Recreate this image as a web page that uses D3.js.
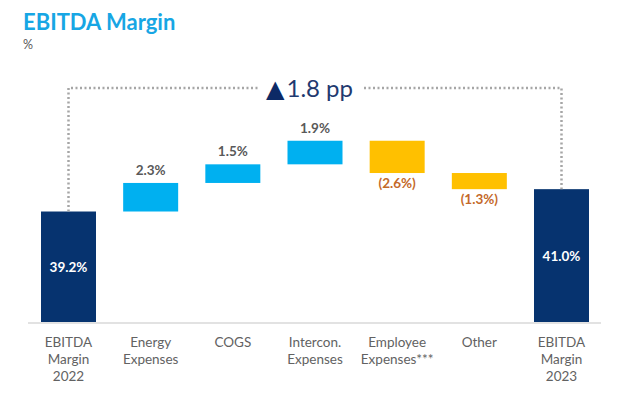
<!DOCTYPE html>
<html><head><meta charset="utf-8">
<script src="https://cdn.jsdelivr.net/npm/d3@7"></script>
<style>body{margin:0;background:#fff}svg{display:block}</style>
</head><body><svg id="c" width="617" height="407"></svg>
<script>
const categories = ["EBITDA Margin 2022","Energy Expenses","COGS","Intercon. Expenses","Employee Expenses***","Other","EBITDA Margin 2023"];
const labelLines = [["EBITDA","Margin","2022"],["Energy","Expenses"],["COGS"],["Intercon.","Expenses"],["Employee","Expenses***"],["Other"],["EBITDA","Margin","2023"]];
const values = [39.2, 2.3, 1.5, 1.9, -2.6, -1.3, 41.0];
const kinds = ["total","delta","delta","delta","delta","delta","total"];
const valueLabels = ["39.2%","2.3%","1.5%","1.9%","(2.6%)","(1.3%)","41.0%"];
const changeLabel = "1.8 pp";

const svg = d3.select("#c");
const font = "Lato, 'Open Sans', sans-serif";

// compute waterfall
let run = 0;
const data = categories.map((c,i)=>{
  let y0,y1;
  if(kinds[i]==="total"){ y0 = null; y1 = values[i]; run = values[i]; }
  else { y0 = run; run = +(run + values[i]).toFixed(2); y1 = run; }
  return {c, i, v: values[i], kind: kinds[i], y0, y1, label: valueLabels[i], lines: labelLines[i]};
});

const x = d3.scalePoint().domain(categories).range([68.5, 561.5]);
const bw = 55;
const y = d3.scaleLinear().domain([30.3, 45]).range([322, 139.5]);
const base = y.domain()[0];

// title
svg.append("text").attr("x",23).attr("y",30).attr("font-family",font).attr("font-weight",700)
  .attr("font-size",22).attr("fill","#17a6e4").text("EBITDA Margin");
svg.append("text").attr("x",23).attr("y",49).attr("font-family",font)
  .attr("font-size",12.5).attr("fill","#595959").text("%");

// baseline
svg.append("line").attr("x1",28).attr("x2",601).attr("y1",323).attr("y2",323)
  .attr("stroke","#d9d9d9").attr("stroke-width",1.5);

// bars
const colorOf = d => d.kind==="total" ? "#06336f" : (d.v>=0 ? "#00b0f0" : "#ffc000");
svg.selectAll("rect.bar").data(data).enter().append("rect").attr("class","bar")
  .attr("x", d=>x(d.c)-bw/2).attr("width", bw)
  .attr("y", d=> d.kind==="total" ? y(d.y1) : y(Math.max(d.y0,d.y1)))
  .attr("height", d=> d.kind==="total" ? y(base)-y(d.y1) : Math.abs(y(d.y0)-y(d.y1)))
  .attr("fill", colorOf);

// value labels
data.forEach(d=>{
  const t = svg.append("text").attr("x",x(d.c)).attr("text-anchor","middle")
    .attr("font-family",font).attr("font-weight",700).attr("font-size",13.5).text(d.label);
  if(d.kind==="total"){
    t.attr("y",(y(d.y1)+y(base))/2+5).attr("fill","#ffffff");
  } else if(d.v>=0){
    t.attr("y",y(d.y1)-8).attr("fill","#595959");
  } else {
    t.attr("y",y(d.y1)+15).attr("fill","#c4692a");
  }
});

// category labels
data.forEach(d=>{
  const t = svg.append("text").attr("x",x(d.c)).attr("y",347).attr("text-anchor","middle")
    .attr("font-family",font).attr("font-size",13.5).attr("fill","#626262");
  d.lines.forEach((l,k)=> t.append("tspan").attr("x",x(d.c)).attr("dy", k===0?0:17).text(l));
});

// bracket
const yTop = 88;
const first = data[0], last = data[data.length-1];
const dotted = g => g.attr("fill","none").attr("stroke","#a6a6a6").attr("stroke-width",2.5).attr("stroke-dasharray","2,2.5");
svg.append("path").attr("d", d3.line()([[x(first.c), y(first.y1)],[x(first.c), yTop],[259, yTop]])).call(dotted);
svg.append("path").attr("d", d3.line()([[364, yTop],[x(last.c), yTop],[x(last.c), y(last.y1)]])).call(dotted);

const ct = svg.append("text").attr("x",266).attr("y",97).attr("font-family",font).attr("fill","#1f3a70");
ct.append("tspan").attr("font-family","'DejaVu Sans', sans-serif").attr("font-size",24).attr("fill","#0d2a66").text("▲");
ct.append("tspan").attr("font-size",24).attr("dx",2).text(changeLabel);
</script></body></html>
